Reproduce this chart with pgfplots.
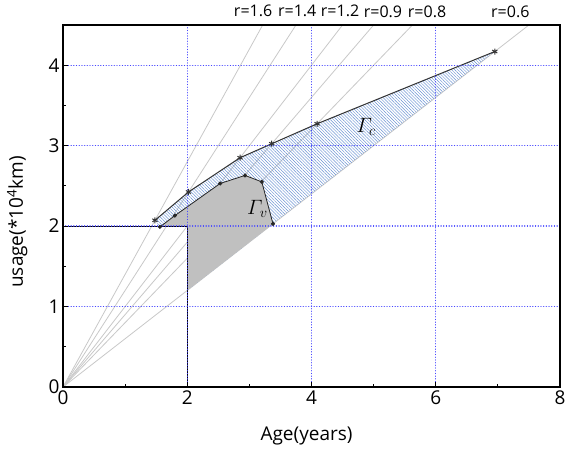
\documentclass[border=0pt]{standalone}
\usepackage{fontspec}
\setmainfont{Open Sans}
\usepackage{amsmath}
\usepackage{pgfplots}
\pgfplotsset{compat=1.18}
\usetikzlibrary{patterns.meta}
\definecolor{gridblue}{RGB}{70,70,255}
\definecolor{hatchblue}{RGB}{105,145,210}
\definecolor{rline}{RGB}{200,200,200}
\definecolor{vgray}{RGB}{192,192,192}
\newcommand{\bigfont}{\fontsize{19}{22}\selectfont}
\newcommand{\gamfont}{\fontsize{22}{24}\selectfont}
\newcommand{\rlab}{\fontsize{16}{18}\selectfont}
\pgfplotsset{gridline/.style={gridblue, line width=1.3pt, line cap=round, dash pattern=on 0.1pt off 2.6pt, forget plot}}

\begin{document}
\begin{tikzpicture}
\begin{axis}[
    scale only axis,
    width=497pt, height=362pt,
    xmin=0, xmax=8, ymin=0, ymax=4.5,
    xtick={0,2,...,8}, ytick={0,1,...,4},
    minor x tick num=1, minor y tick num=1,
    tick align=inside, xtick pos=bottom, ytick pos=left,
    major tick length=5pt, minor tick length=3pt,
    major tick style={black, line width=1pt},
    minor tick style={black, line width=1pt},
    axis line style={line width=1.3pt},
    axis on top,
    clip=false,
    ticklabel style={font=\bigfont},
    /pgf/number format/assume math mode=true,
    xlabel={Age(years)},
    ylabel={usage(*10\textsuperscript{4}km)},
    label style={font=\bigfont},
    xlabel style={at={(axis description cs:0.49,-0.135)}, anchor=center},
    ylabel style={at={(axis description cs:-0.092,0.456)}, anchor=center},
]
% constant-rate lines through the origin
\addplot[rline, line width=0.8pt] coordinates {(0,0) (3.2143,4.5)};
\addplot[rline, line width=0.8pt] coordinates {(0,0) (3.75,4.5)};
\addplot[rline, line width=0.8pt] coordinates {(0,0) (4.5,4.5)};
\addplot[rline, line width=0.8pt] coordinates {(0,0) (5.0,4.5)};
\addplot[rline, line width=0.8pt] coordinates {(0,0) (5.625,4.5)};
\addplot[rline, line width=0.8pt] coordinates {(0,0) (7.5,4.5)};

% Gamma_c region (hatched)
\addplot[draw=none, pattern={Lines[angle=-45, distance=2.2pt, line width=0.45pt]}, pattern color=hatchblue] coordinates {
    (1.48,2.072) (2.02,2.424) (2.85,2.85) (3.36,3.024) (4.09,3.272) (6.95,4.17)
    (2,1.2) (2,2) (1.56,1.99)
};
% Gamma_v region (grey)
\addplot[draw=none, fill=vgray] coordinates {
    (2,1.2) (2,2) (1.56,1.99) (1.80,2.13) (2.53,2.53) (2.93,2.63) (3.20,2.55) (3.38,2.028)
};

\addplot[black, line width=1pt] coordinates {(0,2) (2,2) (2,0)};

\addplot[black!80, line width=1pt, mark=asterisk, mark size=3pt] coordinates {
    (1.48,2.072) (2.02,2.424) (2.85,2.85) (3.36,3.024) (4.09,3.272) (6.95,4.17)
};
\addplot[black!85, line width=0.8pt, mark=*, mark size=1.6pt] coordinates {
    (1.56,1.99) (1.80,2.13) (2.53,2.53) (2.93,2.63) (3.20,2.55) (3.38,2.028)
};

% dotted grid
\addplot[gridline] coordinates {(2,0) (2,4.5)};
\addplot[gridline] coordinates {(4,0) (4,4.5)};
\addplot[gridline] coordinates {(6,0) (6,4.5)};
\addplot[gridline] coordinates {(0,1) (8,1)};
\addplot[gridline] coordinates {(0,2) (8,2)};
\addplot[gridline] coordinates {(0,3) (8,3)};
\addplot[gridline] coordinates {(0,4) (8,4)};

\node at (axis cs:4.88,3.23) {\gamfont$\varGamma_{c}$};
\node at (axis cs:3.13,2.21) {\gamfont$\varGamma_{v}$};

\node[font=\rlab] at (axis cs:3.06,4.67) {r=1.6};
\node[font=\rlab] at (axis cs:3.77,4.67) {r=1.4};
\node[font=\rlab] at (axis cs:4.46,4.67) {r=1.2};
\node[font=\rlab] at (axis cs:5.15,4.67) {r=0.9};
\node[font=\rlab] at (axis cs:5.86,4.67) {r=0.8};
\node[font=\rlab] at (axis cs:7.20,4.67) {r=0.6};
\end{axis}
\pgfresetboundingbox
\path (-63pt,-68pt) rectangle (505pt,387pt);
\end{tikzpicture}
\end{document}
